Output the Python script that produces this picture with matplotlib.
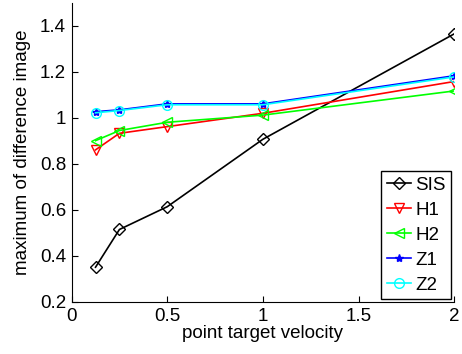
import matplotlib
matplotlib.use('Agg')
import matplotlib.pyplot as plt

plt.rcParams['font.family'] = ['Liberation Sans', 'DejaVu Sans']

# point target velocities
velocity = [0.125, 0.25, 0.5, 1, 2]

# maximum of difference image per method
sis = [0.351, 0.515, 0.614, 0.907, 1.365]
h1 = [0.861, 0.933, 0.962, 1.020, 1.158]
h2 = [0.901, 0.945, 0.981, 1.012, 1.117]
z1 = [1.027, 1.035, 1.061, 1.061, 1.183]
z2 = [1.022, 1.032, 1.057, 1.057, 1.178]

fig = plt.figure(figsize=(4.62, 3.54), dpi=100)
ax = fig.add_axes([0.155, 0.147, 0.828, 0.845])

ax.plot(velocity, sis, color='black', marker='D', mfc='none', ms=6, lw=1.2, label='SIS')
ax.plot(velocity, h1, color='red', marker='v', mfc='none', ms=7, lw=1.2, label='H1')
ax.plot(velocity, h2, color='#00ff00', marker='<', mfc='none', ms=7, lw=1.2, label='H2')
ax.plot(velocity, z1, color='blue', marker='*', ms=6, lw=1.2, label='Z1')
ax.plot(velocity, z2, color='cyan', marker='o', mfc='none', ms=7, lw=1.2, label='Z2')

ax.set_xlim(0, 2)
ax.set_ylim(0.2, 1.5)
ax.set_xticks([0, 0.5, 1, 1.5, 2])
ax.set_xticklabels(['0', '0.5', '1', '1.5', '2'])
ax.set_yticks([0.2, 0.4, 0.6, 0.8, 1, 1.2, 1.4])
ax.set_yticklabels(['0.2', '0.4', '0.6', '0.8', '1', '1.2', '1.4'])
ax.tick_params(direction='in', length=4, labelsize=13.5, color='black', pad=4)
ax.spines['top'].set_visible(False)
ax.spines['right'].set_visible(False)
ax.set_xlabel('point target velocity', fontsize=13.5, labelpad=0)
ax.set_ylabel('maximum of difference image', fontsize=13.5, labelpad=6)

leg = ax.legend(loc='lower right', fontsize=13.5, handlelength=1.3, fancybox=False,
                edgecolor='black', framealpha=1, borderpad=0.3, labelspacing=0.42,
                handletextpad=0.2, borderaxespad=0.15)
leg.get_frame().set_linewidth(1.0)

fig.savefig('out.png', dpi=100)
